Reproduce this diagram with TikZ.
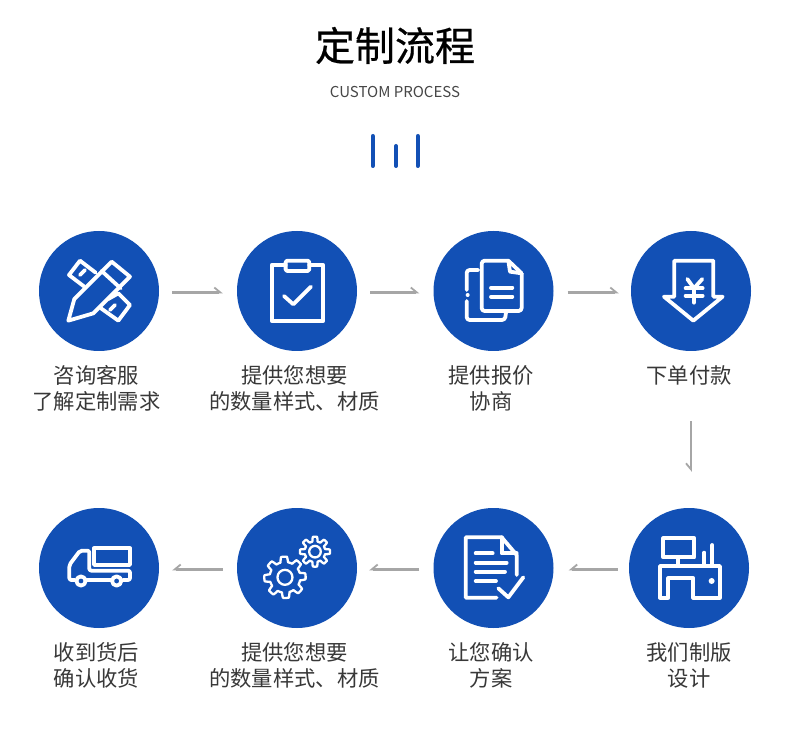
\documentclass[tikz,border=0pt]{standalone}
\usepackage{fontspec}
\setmainfont{Noto Sans CJK SC}
\newfontfamily\titlefont[FakeBold=0.5]{Noto Sans CJK SC}
\usetikzlibrary{arrows.meta}
\definecolor{brandblue}{HTML}{1250B5}
\definecolor{connc}{HTML}{A6A6A6}
\tikzset{
  disc/.style={circle,fill=brandblue,inner sep=0pt,minimum size=120pt},
  lbl/.style={align=center,font=\fontsize{21.3}{26.5}\selectfont,text=black!78,inner sep=0pt},
  conn/.style={draw=connc,line width=2.2pt,-{Straight Barb[harpoon,length=6pt,width=10pt,line width=1.8pt]}},
  connr/.style={draw=connc,line width=2.2pt,-{Straight Barb[harpoon,swap,length=6pt,width=10pt,line width=1.8pt]}},
  ico/.style={draw=white,line width=3.8pt,line join=round,line cap=round,fill=none},
  thin ico/.style={draw=white,line width=2.3pt,line join=round,fill=none},
  bar/.style={draw=brandblue,line width=4pt,line cap=round},
  zoomA/.style={shift={(30,225)},x=0.3333pt,y=-0.3333pt},
  zoomB/.style={shift={(425,225)},x=0.3333pt,y=-0.3333pt},
  zoomC/.style={shift={(30,500)},x=0.3333pt,y=-0.3333pt},
  zoomD/.style={shift={(425,500)},x=0.3333pt,y=-0.3333pt},
}
\begin{document}
\begin{tikzpicture}[x=1pt,y=-1pt]
\useasboundingbox (0,0) rectangle (790,735);
\fill[white] (0,0) rectangle (790,735);
% header
\node[inner sep=0pt] (title) at (395,45.5) {\fontsize{40}{46}\titlefont 定制流程};
\node[inner sep=0pt,text=black!72] (sub) at (395,92) {\fontsize{15}{18}\selectfont CUSTOM PROCESS};
\coordinate (b1t) at (372.7,136); \coordinate (b1b) at (372.7,166);
\coordinate (b2t) at (396,146); \coordinate (b2b) at (396,166);
\coordinate (b3t) at (417.7,136); \coordinate (b3b) at (417.7,166);
\draw[bar] (b1t) -- (b1b);
\draw[bar] (b2t) -- (b2b);
\draw[bar] (b3t) -- (b3b);
% discs
\node[disc] (c1) at (99,291) {};
\node[disc] (c2) at (297,291) {};
\node[disc] (c3) at (493.5,291) {};
\node[disc] (c4) at (691,291) {};
\node[disc] (c5) at (689,568) {};
\node[disc] (c6) at (493.5,568) {};
\node[disc] (c7) at (297,568) {};
\node[disc] (c8) at (99,568) {};
% labels
\node[lbl] (t1) at (96.5,388.5) {咨询客服\\了解定制需求};
\node[lbl] (t2) at (294.5,388.5) {提供您想要\\的数量样式、材质};
\node[lbl] (t3) at (491,388.5) {提供报价\\协商};
\node[lbl] (t4) at (689,375.5) {下单付款};
\node[lbl] (t5) at (689,665.5) {我们制版\\设计};
\node[lbl] (t6) at (491,665.5) {让您确认\\方案};
\node[lbl] (t7) at (294.5,665.5) {提供您想要\\的数量样式、材质};
\node[lbl] (t8) at (96.5,665.5) {收到货后\\确认收货};
% connectors
\draw[conn,shorten <=13pt,shorten >=14pt] ([yshift=-1.5pt]c1.east) -- ([yshift=-1.5pt]c2.west);
\draw[conn,shorten <=13pt,shorten >=14pt] ([yshift=-1.5pt]c2.east) -- ([yshift=-1.5pt]c3.west);
\draw[conn,shorten <=14pt,shorten >=12pt] ([yshift=-1.5pt]c3.east) -- ([yshift=-1.5pt]c4.west);
\draw[connr,shorten <=70pt,shorten >=36pt] ([xshift=0pt]c4.south) -- ([xshift=2pt]c5.north);
\draw[connr,shorten <=11pt,shorten >=15pt] ([yshift=-1.5pt]c5.west) -- ([yshift=-1.5pt]c6.east);
\draw[connr,shorten <=14pt,shorten >=12pt] ([yshift=-1.5pt]c6.west) -- ([yshift=-1.5pt]c7.east);
\draw[connr,shorten <=14pt,shorten >=13pt] ([yshift=-1.5pt]c7.west) -- ([yshift=-1.5pt]c8.east);
% icon 1: pencil and ruler
\begin{scope}[zoomA]
\draw[ico] (163,185) -- (117,150) -- (150,107) -- (197,143);
\draw[ico] (150,150) -- (165,135);
\draw[ico] (235,222) -- (265,205) -- (300,240) -- (265,287) -- (213,250);
\draw[ico] (240,255) -- (255,240);
\draw[ico] (115,287) -- (133,222) -- (245,110) -- (300,155) -- (190,265) -- cycle;
\draw[ico] (215,138) -- (272,190);
\end{scope}
% icon 2: clipboard
\begin{scope}[zoomA]
\draw[ico] (767,120) -- (725,120) -- (725,288) -- (880,288) -- (880,120) -- (838,120);
\draw[ico,rounded corners=1.5pt] (767,107) rectangle (838,138);
\draw[ico] (762,213) -- (790,238) -- (843,185);
\end{scope}
% icon 3: documents
\begin{scope}[zoomB]
\draw[ico,rounded corners=3pt] (160,135) -- (125,135) -- (125,195);
\fill[white] (128,210) circle (2pt);
\draw[ico,rounded corners=3pt] (125,228) -- (125,285) -- (240,285) -- (243,262);
\draw[ico,rounded corners=3pt] (250,107) -- (170,107) -- (170,258) -- (290,258) -- (290,145);
\draw[ico] (250,107) -- (290,145);
\draw[ico] (250,107) -- (255,140) -- (290,145);
\draw[ico] (198,188) -- (262,188);
\draw[ico] (198,215) -- (262,215);
\end{scope}
% icon 4: arrow and yen
\begin{scope}[zoomB]
\draw[ico] (748,107) -- (865,107) -- (865,215) -- (893,215) -- (805,287) -- (717,215) -- (748,215) -- cycle;
\draw[ico] (787,162) -- (807,190) -- (832,162);
\draw[ico] (782,190) -- (833,190);
\draw[ico] (782,212) -- (833,212);
\draw[ico] (807,190) -- (807,233);
\end{scope}
% icon 5: truck
\begin{scope}[zoomC]
\draw[ico] (192,145) rectangle (300,195);
\draw[ico,rounded corners=2pt] (135,240) -- (118,240) -- (118,195) -- (150,152) -- (178,152) -- (178,212) -- (300,212) -- (300,240) -- (278,240);
\draw[ico] (170,240) -- (242,240);
\draw[ico] (153,243) circle (4.6pt);
\draw[ico] (260,243) circle (4.6pt);
\end{scope}
% icon 6: gears
\begin{scope}[zoomC]
\draw[thin ico,shift={(765,232)}] plot[domain=0:360,samples=193] (\x:{54+8*max(min(2.5*cos(8*\x+22),1),-1)}) -- cycle;
\draw[thin ico] (765,232) circle (7.5pt);
\draw[thin ico,shift={(855,155)}] plot[domain=0:360,samples=193] (\x:{38+7*max(min(2.5*cos(8*\x),1),-1)}) -- cycle;
\draw[thin ico] (855,155) circle (5.8pt);
\end{scope}
% icon 7: document with tick
\begin{scope}[zoomD]
\draw[ico] (215,293) -- (122,293) -- (122,112) -- (230,112) -- (275,165) -- (275,225);
\draw[ico] (230,112) -- (230,160) -- (275,160);
\draw[ico] (152,160) -- (203,160);
\draw[ico] (152,188) -- (245,188);
\draw[ico] (152,215) -- (240,215);
\draw[ico] (152,243) -- (213,243);
\draw[ico] (220,265) -- (250,292) -- (295,232);
\end{scope}
% icon 8: desk and computer
\begin{scope}[zoomD]
\draw[ico] (715,115) rectangle (808,172);
\draw[ico] (760,172) -- (760,198);
\draw[ico] (705,198) -- (885,198) -- (885,293) -- (805,293) -- (805,235) -- (730,235) -- (730,293) -- (705,293) -- cycle;
\draw[ico] (838,198) -- (838,158);
\draw[ico] (862,198) -- (862,135);
\fill[white] (860,243) circle (3pt);
\end{scope}
\end{tikzpicture}
\end{document}
